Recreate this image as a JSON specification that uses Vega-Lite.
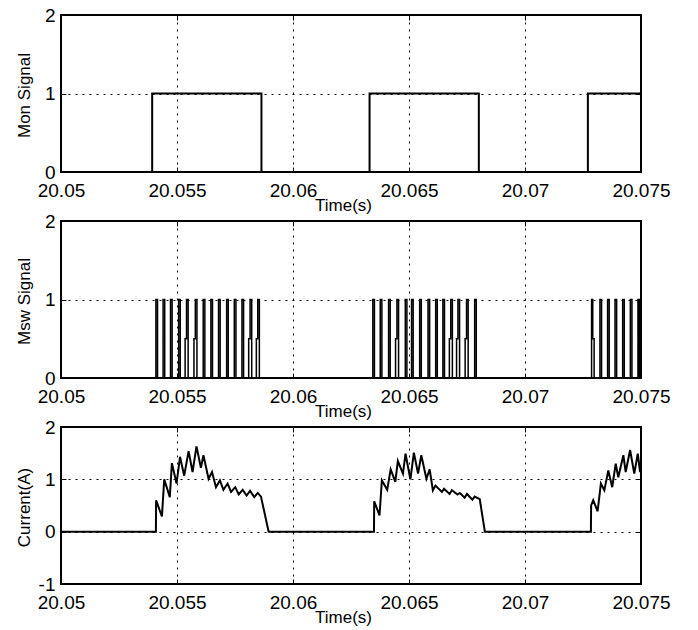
{
  "$schema": "https://vega.github.io/schema/vega-lite/v6.json",
  "background": "white",
  "padding": {"left": 14, "top": 5, "right": 0, "bottom": 0},
  "spacing": 49,
  "bounds": "flush",
  "config": {
    "font": "Liberation Sans",
    "view": {"stroke": "black", "strokeWidth": 2},
    "axis": {
      "domain": false,
      "grid": true,
      "gridColor": "black",
      "gridDash": [2, 5],
      "gridWidth": 1,
      "gridOpacity": 1,
      "ticks": true,
      "tickSize": -5,
      "tickColor": "black",
      "tickWidth": 1,
      "labelFontSize": 19,
      "labelColor": "black",
      "labelFont": "Liberation Sans",
      "labelFlush": false,
      "labelOverlap": false,
      "labelBound": false,
      "labelPadding": 11,
      "titleFont": "Liberation Sans",
      "titleFontWeight": "normal",
      "titleFontSize": 17,
      "titleColor": "black"
    },
    "axisBottom": {"titleX": 282, "titleY": 38, "titleBaseline": "alphabetic", "titleAlign": "center", "labelAngle": 0, "labelPadding": 14},
    "axisLeft": {"titleX": -32, "titleY": 80, "titleBaseline": "alphabetic", "titleAlign": "center", "titleAngle": 270}
  },
  "datasets": {
    "mon": [
      {"t": 20.05, "v": 0}, {"t": 20.05393, "v": 1}, {"t": 20.05864, "v": 0},
      {"t": 20.0633, "v": 1}, {"t": 20.06801, "v": 0}, {"t": 20.07271, "v": 1}, {"t": 20.075, "v": 1}
    ],
    "msw": [
      {"t": 20.05, "v": 0},
      {"t": 20.05409, "v": 1}, {"t": 20.05416, "v": 0},
      {"t": 20.0544, "v": 1}, {"t": 20.05447, "v": 0},
      {"t": 20.05472, "v": 1}, {"t": 20.05479, "v": 0},
      {"t": 20.05507, "v": 1}, {"t": 20.05514, "v": 0},
      {"t": 20.05535, "v": 0.5}, {"t": 20.05541, "v": 1}, {"t": 20.05548, "v": 0},
      {"t": 20.05573, "v": 0.5}, {"t": 20.05579, "v": 1}, {"t": 20.05586, "v": 0},
      {"t": 20.05613, "v": 1}, {"t": 20.0562, "v": 0},
      {"t": 20.05646, "v": 1}, {"t": 20.05653, "v": 0},
      {"t": 20.05679, "v": 1}, {"t": 20.05686, "v": 0},
      {"t": 20.05714, "v": 1}, {"t": 20.05721, "v": 0},
      {"t": 20.05747, "v": 1}, {"t": 20.05754, "v": 0},
      {"t": 20.0578, "v": 1}, {"t": 20.05787, "v": 0},
      {"t": 20.05809, "v": 0.5}, {"t": 20.05815, "v": 1}, {"t": 20.05822, "v": 0},
      {"t": 20.05842, "v": 0.5}, {"t": 20.05848, "v": 1}, {"t": 20.05855, "v": 0},
      {"t": 20.06344, "v": 1}, {"t": 20.06351, "v": 0},
      {"t": 20.06376, "v": 1}, {"t": 20.06383, "v": 0},
      {"t": 20.06412, "v": 1}, {"t": 20.06419, "v": 0},
      {"t": 20.06442, "v": 0.5}, {"t": 20.06448, "v": 1}, {"t": 20.06455, "v": 0},
      {"t": 20.06484, "v": 1}, {"t": 20.06491, "v": 0},
      {"t": 20.06511, "v": 1}, {"t": 20.06518, "v": 0},
      {"t": 20.06546, "v": 1}, {"t": 20.06553, "v": 0},
      {"t": 20.06582, "v": 1}, {"t": 20.06589, "v": 0},
      {"t": 20.06615, "v": 1}, {"t": 20.06622, "v": 0},
      {"t": 20.06646, "v": 1}, {"t": 20.06653, "v": 0},
      {"t": 20.06674, "v": 0.5}, {"t": 20.0668, "v": 1}, {"t": 20.06687, "v": 0},
      {"t": 20.06705, "v": 0.5}, {"t": 20.06711, "v": 1}, {"t": 20.06718, "v": 0},
      {"t": 20.06742, "v": 0.5}, {"t": 20.06748, "v": 1}, {"t": 20.06755, "v": 0},
      {"t": 20.06783, "v": 1}, {"t": 20.0679, "v": 0},
      {"t": 20.07287, "v": 1}, {"t": 20.07292, "v": 0.5}, {"t": 20.07298, "v": 0},
      {"t": 20.07323, "v": 1}, {"t": 20.0733, "v": 0},
      {"t": 20.07356, "v": 1}, {"t": 20.07363, "v": 0},
      {"t": 20.07388, "v": 1}, {"t": 20.07395, "v": 0},
      {"t": 20.07421, "v": 1}, {"t": 20.07428, "v": 0},
      {"t": 20.07454, "v": 1}, {"t": 20.07461, "v": 0},
      {"t": 20.07487, "v": 1}, {"t": 20.07492, "v": 0},
      {"t": 20.07497, "v": 1}, {"t": 20.075, "v": 1}
    ],
    "cur": [
      {"t": 20.05, "v": 0}, {"t": 20.05409, "v": 0}, {"t": 20.0541, "v": 0.6}, {"t": 20.05435, "v": 0.29},
      {"t": 20.05445, "v": 1.0}, {"t": 20.05469, "v": 0.66}, {"t": 20.05478, "v": 1.31}, {"t": 20.05498, "v": 0.92},
      {"t": 20.05513, "v": 1.43}, {"t": 20.05531, "v": 1.07}, {"t": 20.0555, "v": 1.54}, {"t": 20.05567, "v": 1.14},
      {"t": 20.05584, "v": 1.63}, {"t": 20.05603, "v": 1.22}, {"t": 20.05614, "v": 1.46}, {"t": 20.05636, "v": 1.01},
      {"t": 20.05651, "v": 1.14}, {"t": 20.05668, "v": 0.85}, {"t": 20.05685, "v": 0.98}, {"t": 20.057, "v": 0.8},
      {"t": 20.05718, "v": 0.92}, {"t": 20.05733, "v": 0.76}, {"t": 20.05751, "v": 0.85}, {"t": 20.05766, "v": 0.71},
      {"t": 20.05783, "v": 0.8}, {"t": 20.058, "v": 0.69}, {"t": 20.05815, "v": 0.78}, {"t": 20.05833, "v": 0.66},
      {"t": 20.05848, "v": 0.74}, {"t": 20.05862, "v": 0.67}, {"t": 20.05895, "v": 0},
      {"t": 20.06349, "v": 0}, {"t": 20.0635, "v": 0.58}, {"t": 20.06373, "v": 0.31}, {"t": 20.06383, "v": 0.98},
      {"t": 20.06406, "v": 0.8}, {"t": 20.06421, "v": 1.19}, {"t": 20.06441, "v": 0.95}, {"t": 20.06452, "v": 1.35},
      {"t": 20.06474, "v": 1.11}, {"t": 20.06485, "v": 1.49}, {"t": 20.06506, "v": 1.0}, {"t": 20.06521, "v": 1.51},
      {"t": 20.06539, "v": 1.11}, {"t": 20.06553, "v": 1.46}, {"t": 20.06575, "v": 1.01}, {"t": 20.06589, "v": 1.19},
      {"t": 20.06603, "v": 0.79}, {"t": 20.06614, "v": 0.88}, {"t": 20.06642, "v": 0.76}, {"t": 20.06651, "v": 0.82},
      {"t": 20.06675, "v": 0.72}, {"t": 20.06685, "v": 0.79}, {"t": 20.06709, "v": 0.71}, {"t": 20.06719, "v": 0.74},
      {"t": 20.0674, "v": 0.65}, {"t": 20.0675, "v": 0.72}, {"t": 20.06773, "v": 0.61}, {"t": 20.06783, "v": 0.67},
      {"t": 20.06805, "v": 0.62}, {"t": 20.06827, "v": 0},
      {"t": 20.07284, "v": 0}, {"t": 20.07285, "v": 0.5}, {"t": 20.07294, "v": 0.6}, {"t": 20.07313, "v": 0.39},
      {"t": 20.07327, "v": 0.92}, {"t": 20.07342, "v": 0.79}, {"t": 20.07359, "v": 1.17}, {"t": 20.07376, "v": 0.85},
      {"t": 20.07391, "v": 1.3}, {"t": 20.07402, "v": 1.04}, {"t": 20.07424, "v": 1.46}, {"t": 20.07434, "v": 1.14},
      {"t": 20.07453, "v": 1.56}, {"t": 20.07471, "v": 1.11}, {"t": 20.07486, "v": 1.49}, {"t": 20.07496, "v": 1.14},
      {"t": 20.075, "v": 1.37}
    ]
  },
  "vconcat": [
    {
      "width": 580, "height": 157,
      "data": {"name": "mon"},
      "layer": [
        {
          "mark": {"type": "line", "interpolate": "step-after", "color": "black", "strokeWidth": 2, "clip": true},
          "encoding": {
            "x": {"field": "t", "type": "quantitative", "scale": {"domain": [20.05, 20.075], "nice": false, "zero": false},
                  "axis": {"orient": "bottom", "values": [20.05, 20.055, 20.06, 20.065, 20.07, 20.075], "format": ".3~f", "title": "Time(s)"}},
            "y": {"field": "v", "type": "quantitative", "scale": {"domain": [0, 2], "nice": false},
                  "axis": {"orient": "left", "values": [0, 1, 2], "labelExpr": "'' + round(datum.value)", "title": "Mon Signal"}}
          }
        },
        {
          "mark": {"type": "line", "opacity": 0},
          "encoding": {
            "x": {"field": "t", "type": "quantitative", "axis": {"orient": "top", "values": [20.05, 20.055, 20.06, 20.065, 20.07, 20.075], "labels": false, "grid": false, "title": null}},
            "y": {"field": "v", "type": "quantitative", "axis": {"orient": "right", "values": [0, 1, 2], "labels": false, "grid": false, "title": null}}
          }
        }
      ],
      "resolve": {"axis": {"x": "independent", "y": "independent"}}
    },
    {
      "width": 580, "height": 157,
      "data": {"name": "msw"},
      "layer": [
        {
          "mark": {"type": "line", "interpolate": "step-after", "color": "black", "strokeWidth": 1.5, "clip": true},
          "encoding": {
            "x": {"field": "t", "type": "quantitative", "scale": {"domain": [20.05, 20.075], "nice": false, "zero": false},
                  "axis": {"orient": "bottom", "values": [20.05, 20.055, 20.06, 20.065, 20.07, 20.075], "format": ".3~f", "title": "Time(s)"}},
            "y": {"field": "v", "type": "quantitative", "scale": {"domain": [0, 2], "nice": false},
                  "axis": {"orient": "left", "values": [0, 1, 2], "labelExpr": "'' + round(datum.value)", "title": "Msw Signal"}}
          }
        },
        {
          "mark": {"type": "line", "opacity": 0},
          "encoding": {
            "x": {"field": "t", "type": "quantitative", "axis": {"orient": "top", "values": [20.05, 20.055, 20.06, 20.065, 20.07, 20.075], "labels": false, "grid": false, "title": null}},
            "y": {"field": "v", "type": "quantitative", "axis": {"orient": "right", "values": [0, 1, 2], "labels": false, "grid": false, "title": null}}
          }
        }
      ],
      "resolve": {"axis": {"x": "independent", "y": "independent"}}
    },
    {
      "width": 580, "height": 157,
      "data": {"name": "cur"},
      "layer": [
        {
          "mark": {"type": "line", "color": "black", "strokeWidth": 2, "clip": true},
          "encoding": {
            "x": {"field": "t", "type": "quantitative", "scale": {"domain": [20.05, 20.075], "nice": false, "zero": false},
                  "axis": {"orient": "bottom", "values": [20.05, 20.055, 20.06, 20.065, 20.07, 20.075], "format": ".3~f", "title": "Time(s)"}},
            "y": {"field": "v", "type": "quantitative", "scale": {"domain": [-1, 2], "nice": false},
                  "axis": {"orient": "left", "values": [-1, 0, 1, 2], "labelExpr": "'' + round(datum.value)", "title": "Current(A)"}}
          }
        },
        {
          "mark": {"type": "line", "opacity": 0},
          "encoding": {
            "x": {"field": "t", "type": "quantitative", "axis": {"orient": "top", "values": [20.05, 20.055, 20.06, 20.065, 20.07, 20.075], "labels": false, "grid": false, "title": null}},
            "y": {"field": "v", "type": "quantitative", "axis": {"orient": "right", "values": [-1, 0, 1, 2], "labels": false, "grid": false, "title": null}}
          }
        }
      ],
      "resolve": {"axis": {"x": "independent", "y": "independent"}}
    }
  ]
}
